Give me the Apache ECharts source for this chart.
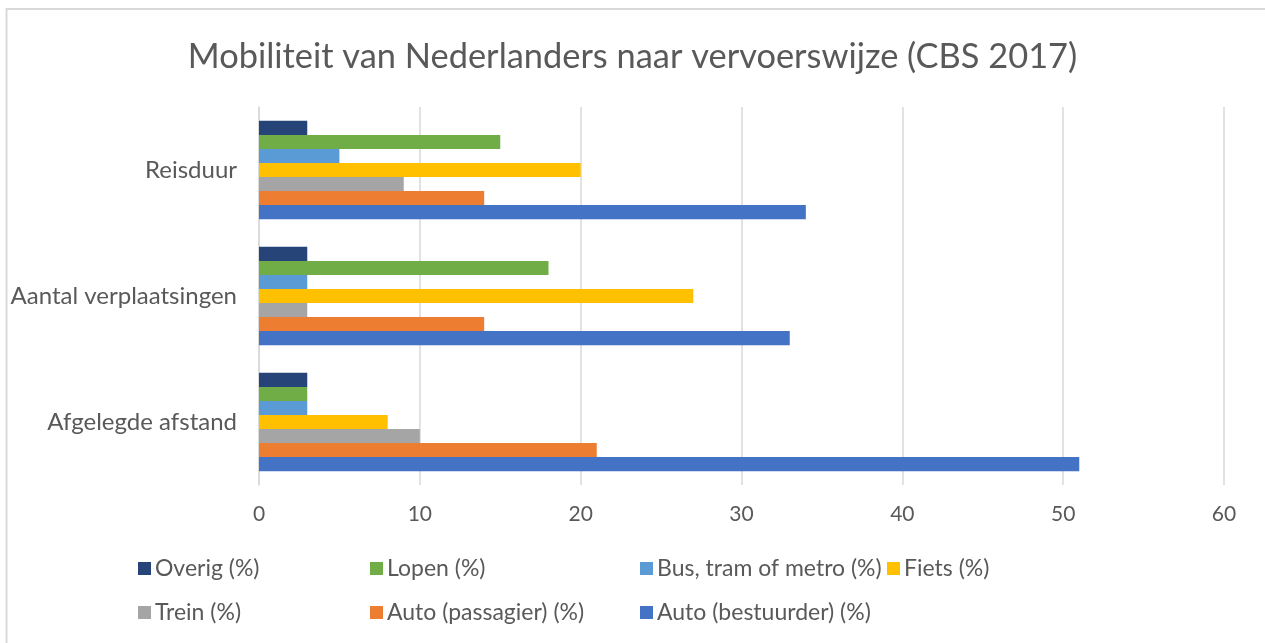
<!DOCTYPE html>
<html><head><meta charset="utf-8">
<script src="https://cdn.jsdelivr.net/npm/echarts@6/dist/echarts.min.js"></script>
<style>html,body{margin:0;padding:0;background:#fff}#c{width:1265px;height:643px}</style>
</head><body><div id="c"></div>
<script>
const categories = ['Afgelegde afstand', 'Aantal verplaatsingen', 'Reisduur'];
const seriesNames = ['Overig (%)', 'Lopen (%)', 'Bus, tram of metro (%)', 'Fiets (%)', 'Trein (%)', 'Auto (passagier) (%)', 'Auto (bestuurder) (%)'];
const overig = [3, 3, 3];
const lopen = [3, 18, 15];
const busTramMetro = [3, 3, 5];
const fiets = [8, 27, 20];
const trein = [10, 3, 9];
const autoPassagier = [21, 14, 14];
const autoBestuurder = [51, 33, 34];
const xTicks = [0, 10, 20, 30, 40, 50, 60];
const colors = ['#264478', '#70AD47', '#5B9BD5', '#FFC000', '#A5A5A5', '#ED7D31', '#4472C4'];
const values = [overig, lopen, busTramMetro, fiets, trein, autoPassagier, autoBestuurder];

const FONT = 'Lato';
const legendPos = [
  ['Overig (%)', 138, 557], ['Lopen (%)', 370, 557], ['Bus, tram of metro (%)', 640, 557], ['Fiets (%)', 887, 557],
  ['Trein (%)', 138, 601], ['Auto (passagier) (%)', 370, 601], ['Auto (bestuurder) (%)', 640, 601]
];

const chart = echarts.init(document.getElementById('c'), null, {renderer: 'canvas'});
chart.setOption({
  animation: false,
  title: {
    text: 'Mobiliteit van Nederlanders naar vervoerswijze (CBS 2017)',
    left: 'center', top: 35,
    textStyle: {fontFamily: FONT, fontSize: 34.4, fontWeight: 'normal', color: '#595959'}
  },
  graphic: [{type: 'rect', shape: {x: 6.5, y: 9, width: 1300, height: 700}, style: {fill: 'none', stroke: '#d9d9d9', lineWidth: 2}, z: -1}],
  legend: legendPos.map(([name, x, y]) => ({
    data: [name], left: x, top: y, itemWidth: 13, itemHeight: 13, itemGap: 0, padding: 0,
    icon: 'rect', textStyle: {fontFamily: FONT, fontSize: 23, color: '#595959', padding: [0, 0, 0, -1]}
  })),
  grid: {left: 259, right: 41, top: 107, bottom: 158},
  xAxis: {
    type: 'value', min: 0, max: 60, interval: 10,
    axisLine: {show: false}, axisTick: {show: false},
    splitLine: {lineStyle: {color: '#d9d9d9', width: 1.5}},
    axisLabel: {fontFamily: FONT, fontSize: 21, color: '#595959', margin: 19,
      formatter: v => xTicks.includes(v) ? String(v) : ''}
  },
  yAxis: {
    type: 'category', data: categories,
    axisLine: {show: true, lineStyle: {color: '#d9d9d9', width: 1.5}}, axisTick: {show: false},
    axisLabel: {fontFamily: FONT, fontSize: 24, color: '#595959', margin: 22}
  },
  series: seriesNames.map((n, i) => ({
    name: n, type: 'bar', data: values[i], barGap: '0%', barCategoryGap: '22%',
    itemStyle: {color: colors[i]}
  }))
});
</script></body></html>
